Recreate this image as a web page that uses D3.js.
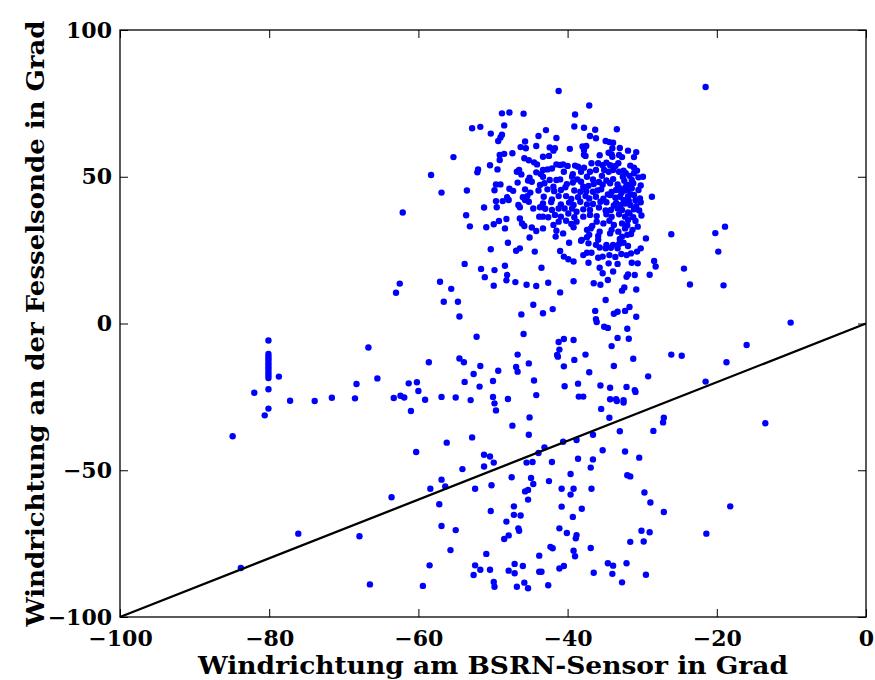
<!DOCTYPE html>
<html>
<head>
    <meta charset="utf-8">
    <title>Windrichtung BSRN vs. Fesselsonde</title>
    <script src="https://d3js.org/d3.v7.min.js"></script>
    <style>
        body {
            margin: 0;
            background: #fff;
        }
        .tick text {
            font-family: "DejaVu Serif", serif;
            font-weight: bold;
            font-size: 22px;
            fill: #000;
        }
        .axis-label {
            font-family: "DejaVu Serif", serif;
            font-weight: bold;
            font-size: 24px;
            fill: #000;
        }
    </style>
</head>
<body>
    <div id="chart"></div>
    <script>
        // Windrichtung [BSRN-Sensor, Fesselsonde] in Grad
        const upperPoints = [
            [-41.2,79.2],[-37.1,74.3],[-48.8,71.6],[-47.8,71.9],[-45.9,71.5],[-39.0,71.2],[-21.5,80.6],
            [-58.3,50.6],[-62.1,37.8],[-62.5,13.6],[-63.0,10.5],
            [-52.8,66.5],[-51.7,67.0],[-48.5,67.5],[-50.3,64.7],[-48.8,64.3],[-49.0,63.4],[-49.3,62.2],
            [-43.9,63.9],[-45.7,62.0],[-46.3,60.1],[-45.6,59.7],[-44.2,60.5],[-47.4,58.0],[-49.1,57.4],
            [-48.5,57.8],[-49.1,55.7],[-45.8,56.3],[-45.2,55.6],[-44.5,54.9],[-44.1,54.2],[-55.3,56.7],
            [-50.4,53.9],[-49.4,52.5],[-52.0,52.5],[-52.1,51.5],[-46.5,52.3],[-46.8,51.7],[-46.2,50.8],
            [-45.1,49.7],[-45.3,48.7],[-44.2,51.5],[-46.7,48.0],[-44.8,48.3],[-49.6,47.4],[-49.0,47.4],
            [-47.8,45.9],[-47.3,45.2],[-45.7,45.7],[-45.0,44.6],[-43.9,45.3],[-56.9,44.6],[-53.5,45.3],
            [-49.8,45.4],[-46.0,43.0],[-45.4,43.4],[-45.7,42.1],[-45.2,41.5],[-48.1,43.0],[-47.9,42.1],
            [-48.7,41.7],[-49.6,41.7],[-46.6,40.4],[-46.4,39.6],[-44.6,39.2],[-43.8,36.4],[-51.2,39.5],
            [-49.5,39.6],[-53.6,36.9],[-53.1,33.1],[-50.9,32.8],[-49.9,33.8],[-49.2,34.9],[-48.2,35.6],
            [-48.4,32.4],[-46.4,35.8],[-46.1,34.1],[-45.8,33.2],[-44.8,32.7],[-44.2,31.5],[-48.0,27.5],
            [-46.4,25.6],[-46.9,24.8],[-45.1,29.3],[-50.3,25.3],[-53.8,20.3],[-51.6,18.6],[-49.8,18.2],
            [-48.4,19.7],[-44.4,24.5]
        ];

        const densePoints = [
            [-42.9,65.9],[-39.1,67.1],[-37.8,66.7],[-36.3,66.0],[-33.4,66.2],[-37.0,63.9],[-36.2,63.1],
            [-41.5,63.2],[-34.9,62.2],[-34.4,61.8],[-33.9,61.6],[-42.4,60.0],[-41.7,59.7],[-41.9,58.9],
            [-39.7,59.5],[-38.0,60.3],[-37.5,60.5],[-37.8,59.1],[-34.0,59.7],[-33.0,59.8],[-31.9,58.9],
            [-30.8,58.4],[-32.7,56.7],[-31.1,56.7],[-43.3,56.8],[-42.5,57.1],[-37.8,57.5],[-37.6,57.1],
            [-35.7,57.3],[-34.5,58.2],[-34.1,57.6],[-34.0,56.8],[-33.1,57.4],[-41.5,54.2],[-41.0,54.0],
            [-40.6,54.2],[-40.0,53.7],[-39.0,53.8],[-38.6,53.4],[-37.8,53.1],[-36.8,54.6],[-35.9,54.6],
            [-35.3,53.9],[-34.8,54.8],[-34.3,53.9],[-33.6,53.7],[-33.2,54.6],[-31.6,53.8],[-31.1,53.1],
            [-30.7,52.1],[-43.3,52.3],[-42.7,52.5],[-42.1,52.8],[-40.5,51.7],[-39.3,50.9],[-38.2,51.7],
            [-37.0,51.7],[-36.2,52.3],[-35.1,52.3],[-34.5,51.7],[-33.9,52.3],[-33.1,51.7],[-32.5,52.1],
            [-32.2,51.2],[-31.1,51.2],[-43.6,50.9],[-43.3,50.0],[-42.4,48.9],[-41.5,48.9],[-41.0,49.1],
            [-39.4,50.0],[-38.7,49.1],[-37.4,50.0],[-36.6,49.1],[-35.4,50.3],[-34.8,48.7],[-33.9,49.2],
            [-32.6,50.0],[-31.7,50.3],[-31.4,48.9],[-30.5,49.8],[-29.9,50.0],[-43.7,47.2],[-43.1,47.8],
            [-41.9,46.6],[-40.1,47.5],[-39.3,48.0],[-38.2,48.3],[-37.9,46.6],[-37.2,46.9],[-36.5,47.5],
            [-35.8,48.2],[-35.3,47.3],[-34.3,47.8],[-33.3,47.4],[-32.4,48.6],[-31.9,47.2],[-31.2,47.8],
            [-42.7,45.7],[-41.8,45.1],[-40.9,45.5],[-40.3,46.4],[-39.1,45.3],[-38.3,44.9],[-37.5,45.1],
            [-36.6,44.9],[-36.0,45.3],[-35.5,45.7],[-34.1,44.8],[-33.5,45.5],[-33.0,46.1],[-32.4,45.3],
            [-31.9,45.5],[-31.4,46.1],[-30.5,45.5],[-43.2,43.2],[-42.1,42.3],[-41.2,43.4],[-40.2,43.4],
            [-39.5,42.4],[-38.6,43.0],[-37.6,43.4],[-37.1,42.6],[-36.2,43.2],[-35.2,42.5],[-34.3,43.8],
            [-33.6,42.9],[-33.0,43.2],[-32.5,42.1],[-31.9,43.4],[-31.1,43.8],[-30.3,42.6],[-28.7,43.2],
            [-43.3,40.9],[-42.2,41.4],[-40.9,40.6],[-39.8,41.2],[-39.2,40.4],[-38.3,41.5],[-37.4,40.6],
            [-36.6,40.7],[-35.6,41.5],[-34.8,41.3],[-33.5,41.1],[-32.9,40.4],[-32.3,40.9],[-31.6,40.4],
            [-30.8,40.0],[-30.2,41.3],[-43.7,39.6],[-43.0,39.1],[-42.1,38.7],[-41.2,39.2],[-40.4,39.2],
            [-39.4,39.2],[-38.8,38.1],[-37.9,38.9],[-37.0,38.7],[-35.8,39.5],[-34.9,38.5],[-34.2,38.7],
            [-33.3,39.2],[-32.7,38.7],[-31.9,37.8],[-31.1,38.9],[-43.3,36.4],[-42.6,36.2],[-41.7,37.0],
            [-40.9,36.4],[-39.9,37.5],[-39.1,36.2],[-37.9,36.4],[-37.0,37.0],[-36.1,36.6],[-34.8,37.2],
            [-34.1,36.4],[-33.1,37.2],[-32.3,36.4],[-31.7,37.5],[-30.9,34.9],[-41.9,33.6],[-41.2,34.7],
            [-40.2,35.0],[-39.5,33.9],[-38.8,34.7],[-36.7,33.2],[-36.1,34.7],[-35.2,34.1],[-34.4,35.0],
            [-33.8,33.6],[-32.7,34.1],[-31.9,35.3],[-43.3,32.4],[-41.5,31.6],[-40.6,30.7],[-39.2,32.8],
            [-37.4,31.9],[-36.9,32.4],[-35.7,31.3],[-34.1,31.9],[-33.2,31.3],[-32.3,32.4],[-31.3,31.9],
            [-41.6,29.6],[-38.1,28.5],[-37.4,29.4],[-37.1,30.2],[-35.9,29.8],[-34.3,30.7],[-32.7,29.6],
            [-32.0,30.2],[-29.5,29.0],[-39.8,27.5],[-38.2,28.2],[-37.2,27.3],[-36.2,26.8],[-35.9,28.5],
            [-34.8,26.8],[-33.9,26.8],[-33.1,27.1],[-32.5,27.5],[-31.9,26.4],[-41.0,24.7],[-37.9,23.3],
            [-37.4,24.1],[-36.8,24.1],[-35.7,25.9],[-34.9,25.6],[-34.2,25.8],[-33.3,25.6],[-31.5,23.9],
            [-30.7,24.5],[-30.2,25.6],[-40.5,22.8],[-39.9,21.9],[-39.2,21.1],[-37.2,20.7],[-35.9,22.4],
            [-35.3,22.8],[-34.4,23.3],[-33.6,22.7],[-32.8,23.7],[-32.1,23.3],[-43.5,19.0],[-35.7,19.0],
            [-34.5,20.5],[-33.3,20.3],[-31.4,20.7],[-30.6,20.5],[-28.4,21.3],[-28.2,19.4],
            [-31.5,44.0],[-30.9,42.0],[-31.8,41.8],[-32.8,44.5],[-30.4,38.5],[-31.2,36.2],[-32.0,33.5],
            [-30.6,33.0],[-31.5,30.5],[-33.0,28.8],[-30.2,47.0],[-32.2,46.5],[-33.8,40.2],[-34.6,44.0],
            [-30.1,36.8]
        ];

        const middlePoints = [
            [-51.1,15.8],[-48.1,16.5],[-48.2,14.7],[-47.0,14.1],[-45.5,13.2],[-44.2,12.8],[-42.6,13.9],
            [-41.0,10.6],[-39.2,14.4],[-55.6,11.8],[-57.1,14.2],[-49.9,12.9],[-36.5,13.7],[-35.6,13.2],
            [-34.6,14.8],[-32.7,11.2],[-32.4,12.3],[-30.8,11.6],[-31.0,16.5],[-31.9,16.7],[-32.1,15.9],
            [-29.0,16.6],[-35.3,17.1],[-33.9,17.7],
            [-26.1,30.4],[-20.2,30.8],[-18.9,33.0],[-19.8,24.5],[-24.4,18.7],[-23.6,13.3],[-19.1,13.0],
            [-10.1,0.3],[-16.0,-7.3],[-18.7,-13.2],[-21.5,-19.8],[-13.5,-34.0],[-18.2,-62.3],[-21.4,-71.6],
            [-56.6,7.4],[-80.1,-5.8],[-80.1,-10.4],[-80.1,-11.3],[-80.1,-12.2],[-80.1,-13.1],[-80.1,-14.0],
            [-80.1,-14.9],[-80.1,-15.8],[-80.1,-16.8],[-80.1,-17.7],[-80.1,-18.6],[-78.7,-18.1],[-82.0,-23.6],
            [-80.1,-22.4],[-77.2,-26.3],[-73.9,-26.4],[-71.6,-25.3],[-68.5,-25.5],[-66.7,-8.2],[-65.5,-18.7],
            [-68.3,-20.6],[-63.3,-25.4],[-62.4,-24.6],[-61.9,-25.2],[-61.3,-20.4],[-60.2,-20.0],[-60.0,-23.0],
            [-59.1,-26.0],[-58.6,-13.2],[-61.0,-29.8],[-56.9,-25.0],[-80.1,-29.0],[-80.6,-31.3],[-84.9,-38.4],
            [-60.3,-43.8],[-56.2,-40.6]
        ];

        const lowerPoints = [
            [-54.7,7.4],[-54.5,2.4],[-44.6,6.4],[-46.2,3.1],[-43.3,3.5],[-42.0,4.9],[-34.9,8.0],[-36.3,4.3],
            [-36.2,1.5],[-36.1,0.5],[-33.8,3.3],[-33.3,4.0],[-32.3,4.3],[-31.7,5.6],[-30.8,2.3],[-35.1,-1.1],
            [-34.6,-1.5],[-32.0,-1.8],[-52.2,-4.5],[-45.9,-3.6],[-41.2,-6.3],[-40.5,-5.3],[-39.2,-5.6],
            [-41.1,-8.9],[-41.4,-10.7],[-41.3,-11.3],[-33.3,-4.9],[-31.8,-5.2],[-34.1,-7.7],[-37.6,-10.6],
            [-39.1,-12.4],[-40.5,-14.6],[-31.2,-12.0],[-33.8,-14.5],[-26.1,-10.6],[-24.7,-11.0],[-54.5,-11.9],
            [-53.9,-13.2],[-46.7,-10.6],[-45.2,-13.6],[-46.9,-14.8],[-46.7,-16.4],[-51.7,-14.5],[-49.3,-16.1],
            [-52.6,-17.2],[-53.8,-19.9],[-51.8,-21.5],[-50.0,-19.6],[-44.5,-19.4],[-37.1,-16.6],[-38.6,-20.5],
            [-40.4,-21.4],[-35.6,-21.1],[-34.3,-21.9],[-32.1,-21.6],[-30.9,-23.3],[-31.0,-22.7],[-29.2,-18.0],
            [-55.0,-25.2],[-53.0,-26.1],[-50.0,-25.0],[-49.8,-27.2],[-49.6,-29.6],[-48.0,-25.7],[-44.2,-24.4],
            [-38.5,-24.9],[-37.9,-24.9],[-34.3,-25.8],[-33.5,-25.8],[-33.4,-26.4],[-32.5,-26.1],[-32.5,-26.9],
            [-35.5,-29.1],[-34.4,-32.1],[-47.4,-34.8],[-45.1,-32.0],[-45.2,-37.9],[-52.8,-38.8],[-51.2,-44.7],
            [-50.4,-45.3],[-43.9,-44.1],[-43.1,-42.2],[-40.6,-40.3],[-38.8,-39.7],[-36.6,-37.9],[-35.3,-43.2],
            [-33.0,-36.7],[-32.3,-43.6],[-30.4,-45.7],[-28.5,-36.6],[-27.2,-33.7],[-27.1,-32.1],[-38.6,-46.1],
            [-36.6,-46.3]
        ];

        const bottomPoints = [
            [-49.9,-47.4],[-51.2,-48.7],[-54.1,-49.6],[-45.5,-47.4],[-44.7,-47.2],[-42.1,-47.2],[-36.9,-49.1],
            [-52.4,-56.3],[-50.2,-55.1],[-47.5,-52.4],[-44.9,-52.6],[-44.6,-54.7],[-45.7,-57.2],[-45.3,-56.7],
            [-45.3,-60.0],[-42.5,-53.7],[-39.6,-51.3],[-40.8,-56.3],[-39.2,-56.3],[-39.6,-58.3],[-36.8,-56.3],
            [-32.0,-51.7],[-31.6,-52.1],[-29.7,-57.6],[-28.9,-61.0],[-27.1,-64.2],[-50.3,-63.9],[-47.2,-62.3],
            [-47.2,-65.2],[-46.3,-65.4],[-48.2,-67.5],[-40.8,-62.4],[-38.1,-63.1],[-39.3,-65.9],[-55.0,-70.4],
            [-46.6,-69.8],[-46.5,-70.6],[-47.9,-72.2],[-48.5,-73.4],[-41.1,-69.8],[-40.1,-71.4],[-38.8,-72.1],
            [-38.9,-73.2],[-30.1,-70.6],[-29.0,-71.1],[-31.6,-74.4],[-29.8,-74.3],[-55.7,-77.2],[-50.9,-78.5],
            [-42.3,-76.1],[-42.0,-76.6],[-39.2,-77.4],[-39.0,-79.3],[-36.9,-76.5],[-43.8,-79.1],[-52.4,-82.4],
            [-51.7,-83.9],[-52.6,-85.7],[-50.4,-83.9],[-47.1,-81.9],[-46.0,-82.6],[-47.9,-84.2],[-47.1,-85.1],
            [-43.8,-84.6],[-43.5,-84.6],[-41.1,-83.5],[-40.5,-82.6],[-34.6,-81.7],[-33.9,-82.5],[-32.1,-81.7],
            [-36.5,-84.9],[-34.0,-85.3],[-32.7,-88.2],[-29.5,-85.6],[-49.9,-88.1],[-49.8,-89.7],[-46.8,-89.7],
            [-45.8,-88.3],[-45.3,-90.2],[-42.6,-89.2],
            [-56.9,-53.2],[-56.4,-55.5],[-58.4,-56.3],[-63.6,-59.2],[-57.2,-61.6],[-56.9,-69.0],[-76.1,-71.6],
            [-67.9,-72.5],[-83.8,-83.3],[-58.5,-82.4],[-66.5,-88.9],[-59.4,-89.4]
        ];

        const xTicks = [-100, -80, -60, -40, -20, 0];
        const yTicks = [-100, -50, 0, 50, 100];
        const xLabel = "Windrichtung am BSRN-Sensor in Grad";
        const yLabel = "Windrichtung an der Fesselsonde in Grad";

        const width = 875, height = 680;
        const margin = { top: 30, right: 9, bottom: 63, left: 120 };
        const innerW = width - margin.left - margin.right;
        const innerH = height - margin.top - margin.bottom;

        const svg = d3.select("#chart")
            .append("svg")
            .attr("width", width)
            .attr("height", height);

        const g = svg.append("g")
            .attr("transform", `translate(${margin.left},${margin.top})`);

        const x = d3.scaleLinear().domain([-100, 0]).range([0, innerW]);
        const y = d3.scaleLinear().domain([-100, 100]).range([innerH, 0]);

        const fmt = d => d < 0 ? "\u2212" + Math.abs(d) : String(d);

        // scatter
        const points = upperPoints.concat(densePoints, middlePoints, lowerPoints, bottomPoints);
        g.selectAll(".dot")
            .data(points)
            .enter()
            .append("circle")
            .attr("class", "dot")
            .attr("cx", d => x(d[0]))
            .attr("cy", d => y(d[1]))
            .attr("r", 3.2)
            .attr("fill", "#0000ff");

        // 1:1 line
        g.append("line")
            .attr("x1", x(-100)).attr("y1", y(-100))
            .attr("x2", x(0)).attr("y2", y(0))
            .attr("stroke", "#000")
            .attr("stroke-width", 2.3);

        // axes, ticks pointing inwards
        const axBottom = g.append("g")
            .attr("transform", `translate(0,${innerH})`)
            .call(d3.axisBottom(x).tickValues(xTicks).tickFormat(fmt).tickSizeInner(-8).tickSizeOuter(0).tickPadding(13));
        const axLeft = g.append("g")
            .call(d3.axisLeft(y).tickValues(yTicks).tickFormat(fmt).tickSizeInner(-8).tickSizeOuter(0).tickPadding(8));
        const axTop = g.append("g")
            .call(d3.axisTop(x).tickValues(xTicks).tickFormat("").tickSizeInner(-8).tickSizeOuter(0));
        const axRight = g.append("g")
            .attr("transform", `translate(${innerW},0)`)
            .call(d3.axisRight(y).tickValues(yTicks).tickFormat("").tickSizeInner(-8).tickSizeOuter(0));

        [axBottom, axLeft, axTop, axRight].forEach(a => {
            a.select(".domain").remove();
            a.selectAll(".tick line").attr("stroke", "#000").attr("stroke-width", 1);
        });

        // frame
        g.append("rect")
            .attr("width", innerW)
            .attr("height", innerH)
            .attr("fill", "none")
            .attr("stroke", "#000")
            .attr("stroke-width", 1.3);

        svg.append("text")
            .attr("class", "axis-label")
            .attr("x", margin.left + innerW / 2)
            .attr("y", 674)
            .attr("text-anchor", "middle")
            .attr("textLength", 590)
            .attr("lengthAdjust", "spacingAndGlyphs")
            .text(xLabel);

        svg.append("text")
            .attr("class", "axis-label")
            .attr("transform", `translate(44,${margin.top + innerH / 2}) rotate(-90)`)
            .attr("text-anchor", "middle")
            .attr("textLength", 606)
            .attr("lengthAdjust", "spacingAndGlyphs")
            .text(yLabel);
    </script>
</body>
</html>
